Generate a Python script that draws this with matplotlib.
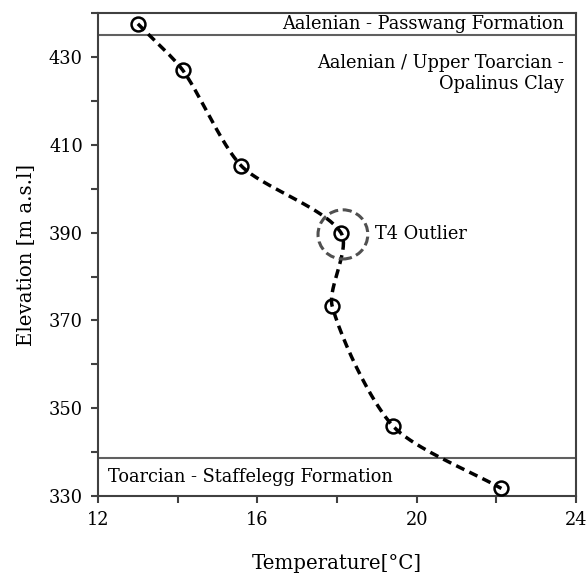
import numpy as np
import matplotlib
matplotlib.use('Agg')
import matplotlib.pyplot as plt
from matplotlib.patches import Ellipse

# Temperature profile
temperature = [13.0, 14.13, 15.6, 18.1, 17.88, 19.41, 22.13]
elevation = [437.6, 427.0, 405.2, 390.0, 373.3, 345.9, 331.7]

# formation boundaries
boundary_top = 435.0
boundary_bottom = 338.6

plt.rcParams['font.family'] = 'DejaVu Serif'
plt.rcParams['font.size'] = 12.8

fig = plt.figure(figsize=(5.87, 5.76), dpi=100)
ax = fig.add_axes([0.167, 0.139, 0.814, 0.838])

xlim = (12, 24)
ylim = (330, 440)
W, H = 478.0, 483.0   # axes size in pixels, so smoothing is done on screen shape


def smooth_line(xs, ys, n=40, k=4.0):
    # bezier smoothing like the spreadsheet "smoothed line"
    px = (np.array(xs) - xlim[0]) / (xlim[1] - xlim[0]) * W
    py = (np.array(ys) - ylim[0]) / (ylim[1] - ylim[0]) * H
    P = np.column_stack([px, py])
    m = len(P)
    tang = []
    for i in range(m):
        d = P[min(i + 1, m - 1)] - P[max(i - 1, 0)]
        tang.append(d / np.linalg.norm(d))
    out = []
    t = np.linspace(0, 1, n)[:, None]
    for i in range(m - 1):
        a, b = P[i], P[i + 1]
        L = np.linalg.norm(b - a)
        c1 = a + tang[i] * L / k
        c2 = b - tang[i + 1] * L / k
        seg = (1 - t) ** 3 * a + 3 * (1 - t) ** 2 * t * c1 + 3 * (1 - t) * t ** 2 * c2 + t ** 3 * b
        out.append(seg)
    out = np.vstack(out)
    sx = out[:, 0] / W * (xlim[1] - xlim[0]) + xlim[0]
    sy = out[:, 1] / H * (ylim[1] - ylim[0]) + ylim[0]
    return sx, sy


sx, sy = smooth_line(temperature, elevation)
ax.plot(sx, sy, color='black', lw=2.5, linestyle=(0, (2.6, 1.6)), zorder=3)
ax.plot(temperature, elevation, linestyle='none', marker='o', ms=10, mfc='none',
        mec='black', mew=1.8, zorder=4)

ax.axhline(boundary_top, color='#606060', lw=1.5)
ax.axhline(boundary_bottom, color='#606060', lw=1.5)

# outlier circle
ax.add_patch(Ellipse((18.15, 389.6), 1.25, 11.2, fill=False, edgecolor='#505050',
                     lw=2.2, linestyle=(0, (3, 1.5)), zorder=5))
ax.text(18.95, 389.6, 'T4 Outlier', va='center', ha='left')

ax.text(23.7, 437.5, 'Aalenian - Passwang Formation', ha='right', va='center')
ax.text(23.7, 426.3, 'Aalenian / Upper Toarcian -\nOpalinus Clay', ha='right', va='center',
        multialignment='right', linespacing=1.2)
ax.text(12.25, 334.3, 'Toarcian - Staffelegg Formation', ha='left', va='center')

ax.set_xlim(*xlim)
ax.set_ylim(*ylim)
ax.set_xticks(np.arange(12, 25, 2))
ax.set_xticklabels(['12', '', '16', '', '20', '', '24'])
ax.set_yticks(np.arange(330, 441, 10))
ax.set_yticklabels([str(v) if (v - 330) % 20 == 0 else '' for v in range(330, 441, 10)])
ax.tick_params(direction='out', length=5, width=1.5, color='#404040', pad=6, labelsize=12.8)

for s in ax.spines.values():
    s.set_color('#404040')
    s.set_linewidth(1.5)

ax.set_xlabel('Temperature[°C]', labelpad=18, fontsize=14.2)
ax.set_ylabel('Elevation [m a.s.l]', labelpad=9, fontsize=14.2)

fig.savefig('out.png', dpi=100)
